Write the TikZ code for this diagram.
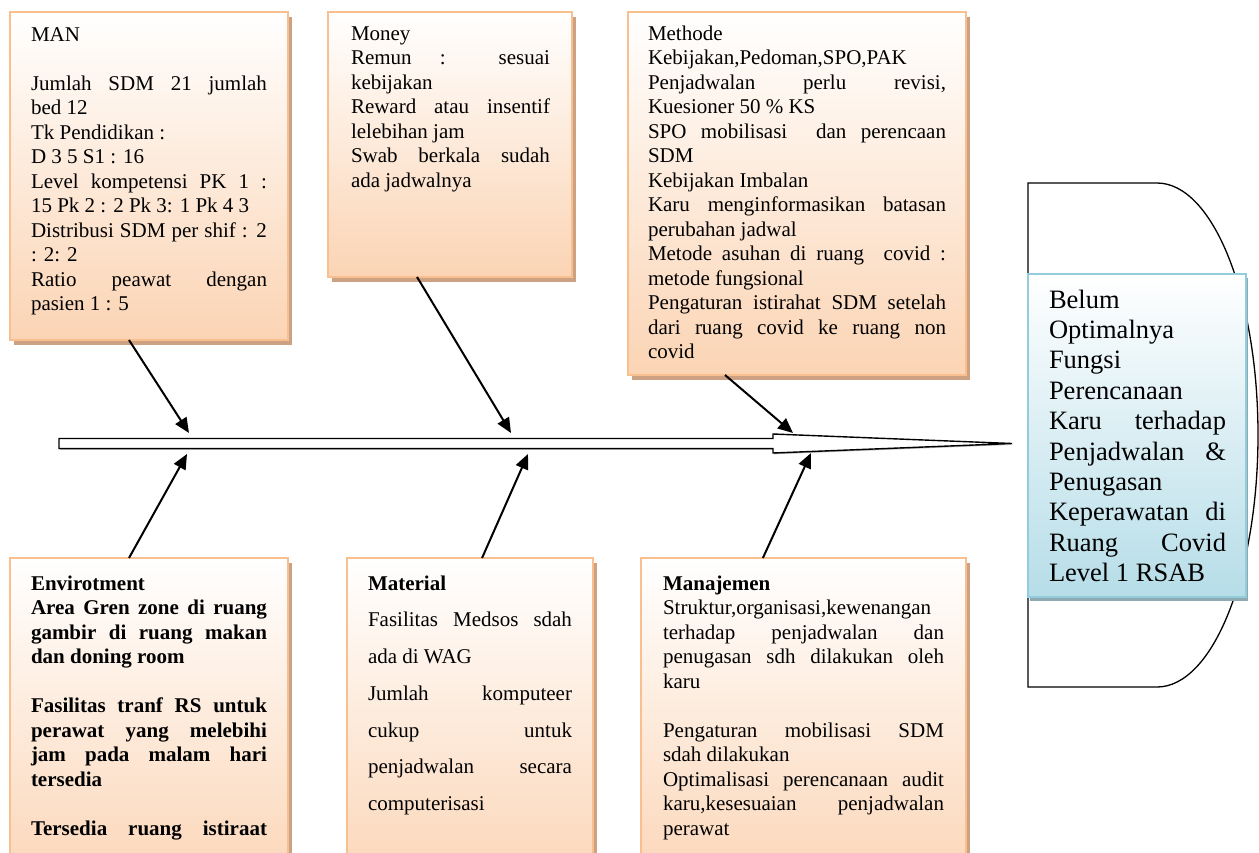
\documentclass[tikz,border=0pt]{standalone}
\usepackage{fontspec}
\setmainfont{Liberation Serif}
\usetikzlibrary{shadows,arrows.meta,calc}
\definecolor{pch}{HTML}{FBD4B4}
\definecolor{pchline}{HTML}{FABF8F}
\definecolor{pchshadow}{HTML}{CDA282}
\definecolor{blu}{HTML}{B6DDE8}
\definecolor{bluline}{HTML}{92CDDC}
\definecolor{blushadow}{HTML}{8EA9B1}
\newcommand\JL[1]{\makebox[\linewidth][s]{#1}}
\newcommand\FR{\rule{0pt}{16pt}}
\begin{document}
\begin{tikzpicture}[x=1pt,y=-1pt,
  fishbox/.style={draw=pchline, line width=1.5pt, top color=white, bottom color=pch,
    inner sep=0pt, outer sep=0pt,
    drop shadow={shadow xshift=4pt, shadow yshift=-5pt, fill=pchshadow, opacity=1}},
  boxtext/.style={anchor=north west, inner sep=0pt, outer sep=0pt, align=justify,
    font=\fontsize{21}{24.5}\selectfont},
  bone/.style={line width=2pt, -{Triangle[length=15pt,width=13pt]}},
  problembox/.style={draw=bluline, line width=1.5pt, top color=white, bottom color=blu,
    inner sep=0pt, outer sep=0pt,
    drop shadow={shadow xshift=2pt, shadow yshift=-4pt, fill=blushadow, opacity=1}}
]
\useasboundingbox (0,0) rectangle (1259,852);
\clip (0,0) rectangle (1259,852);
\fill[white] (0,0) rectangle (1259,852);

% head outline
\draw[line width=1.3pt] (1028,183) -- (1157,183)
  arc[start angle=90, end angle=-90, x radius=101pt, y radius=252pt]
  -- (1028,687) -- cycle;

% problem box
\node[problembox, minimum width=218pt, minimum height=323pt] (prob) at (1137,435.5) {};
\node[boxtext, text width=177pt, font=\fontsize{26.5}{30.4}\selectfont] (probtxt) at (1049,287) {%
\rule{0pt}{21pt}Belum\\
Optimalnya\\
Fungsi\\
Perencanaan\\
\JL{Karu terhadap}\\
\JL{Penjadwalan \&}\\
Penugasan\\
\JL{Keperawatan di}\\
\JL{Ruang Covid}\\
Level 1 RSAB};

% spine
\fill[gray!60] (60,439.8) -- (774,439.8) -- (774,435.3) -- (1013,444.8) -- (774,454.3) -- (774,449.8) -- (60,449.8) -- cycle;
\draw[line width=1.4pt, fill=white, line join=miter]
  (59,438.5) -- (773,438.5) -- (773,434) -- (1012,443.5) -- (773,453) -- (773,448.5) -- (59,448.5) -- cycle;

\coordinate (t1) at (189,433);
\coordinate (t2) at (511,433);
\coordinate (t3) at (793,433);
\coordinate (b1) at (187,454);
\coordinate (b2) at (528,454);
\coordinate (b3) at (811,453);

% top boxes
\node[fishbox, minimum width=278pt, minimum height=328pt] (man) at (149,176) {};
\node[fishbox, minimum width=244pt, minimum height=265pt] (money) at (450,144.5) {};
\node[fishbox, minimum width=338pt, minimum height=363pt] (meth) at (797,193.5) {};
% bottom boxes
\node[fishbox, minimum width=278pt, minimum height=342pt] (env) at (149,729) {};
\node[fishbox, minimum width=246pt, minimum height=342pt] (mat) at (470,729) {};
\node[fishbox, minimum width=325pt, minimum height=342pt] (mgt) at (803.5,729) {};

\node[boxtext, text width=236pt] (mantxt) at (31,25) {%
\FR MAN\\
~\\
\JL{Jumlah SDM 21 jumlah}\\
bed 12\\
Tk Pendidikan :\\
D 3 5 S1 : 16\\
\JL{Level kompetensi PK 1 :}\\
15 Pk 2 : 2 Pk 3: 1 Pk 4 3\\
\JL{Distribusi SDM per shif : 2}\\
: 2: 2\\
\JL{Ratio peawat dengan}\\
pasien 1 : 5};

\node[boxtext, text width=199pt] (moneytxt) at (351,24) {%
\FR Money\\
\JL{Remun : sesuai}\\
kebijakan\\
\JL{Reward atau insentif}\\
lelebihan jam\\
\JL{Swab berkala sudah}\\
ada jadwalnya};

\node[boxtext, text width=298pt] (methtxt) at (648,24) {%
\FR Methode\\
Kebijakan,Pedoman,SPO,PAK\\
\JL{Penjadwalan perlu revisi,}\\
Kuesioner 50 \% KS\\
\JL{SPO mobilisasi \ dan perencaan}\\
SDM\\
Kebijakan Imbalan\\
\JL{Karu menginformasikan batasan}\\
perubahan jadwal\\
\JL{Metode asuhan di ruang \ covid :}\\
metode fungsional\\
\JL{Pengaturan istirahat SDM setelah}\\
\JL{dari ruang covid ke ruang non}\\
covid};

\node[boxtext, text width=236pt, font=\fontsize{21}{24.5}\selectfont\bfseries] (envtxt) at (31,574) {%
\FR Envirotment\\
\JL{Area Gren zone di ruang}\\
\JL{gambir di ruang makan}\\
dan doning room\\
~\\
\JL{Fasilitas tranf RS untuk}\\
\JL{perawat yang melebihi}\\
\JL{jam pada malam hari}\\
tersedia\\
~\\
\JL{Tersedia ruang istiraat}};

\node[boxtext, text width=204pt, font=\fontsize{21}{36.75}\selectfont] (mattxt) at (368,574) {%
\FR\textbf{Material}\\
\JL{Fasilitas Medsos sdah}\\
ada di WAG\\
\JL{Jumlah komputeer}\\
\JL{cukup untuk}\\
\JL{penjadwalan secara}\\
computerisasi};

\node[boxtext, text width=281pt] (mgttxt) at (663,574) {%
\FR\textbf{Manajemen}\\
Struktur,organisasi,kewenangan\\
\JL{terhadap penjadwalan dan}\\
\JL{penugasan sdh dilakukan oleh}\\
karu\\
~\\
\JL{Pengaturan mobilisasi SDM}\\
sdah dilakukan\\
\JL{Optimalisasi perencanaan audit}\\
\JL{karu,kesesuaian penjadwalan}\\
perawat};

% bones
\draw[bone] ($(man.south west)!0.428!(man.south east)$) -- (t1);
\draw[bone] ($(money.south west)!0.365!(money.south east)$) -- (t2);
\draw[bone] ($(meth.south west)!0.287!(meth.south east)$) -- (t3);
\draw[bone] ($(env.north west)!0.428!(env.north east)$) -- (b1);
\draw[bone] ($(mat.north west)!0.549!(mat.north east)$) -- (b2);
\draw[bone] ($(mgt.north west)!0.375!(mgt.north east)$) -- (b3);
\end{tikzpicture}
\end{document}
